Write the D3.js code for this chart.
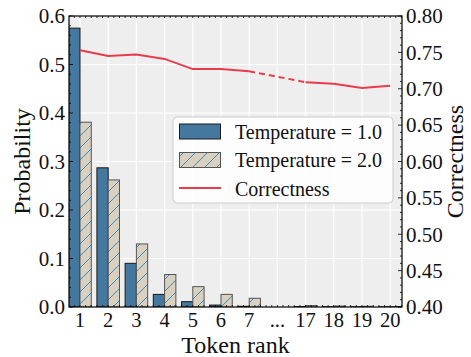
<!DOCTYPE html>
<html><head><meta charset="utf-8">
<script src="https://cdn.jsdelivr.net/npm/d3@7"></script>
<style>body{margin:0;background:#fff}svg{display:block}text{font-family:"Liberation Serif","Times New Roman",serif;fill:#111}</style>
</head><body>
<svg id="c" width="471" height="357"></svg>
<script>
const categories = ["1","2","3","4","5","6","7","...","17","18","19","20"];
const probTemp1 = [0.575,0.287,0.090,0.026,0.011,0.004,0.0015,null,0.0008,0.0005,0.0004,0.0003];
const probTemp2 = [0.381,0.262,0.130,0.067,0.042,0.026,0.018,null,0.003,0.002,0.0015,0.001];
const correctness = [0.753,0.745,0.747,0.741,0.727,0.727,0.724,null,0.709,0.707,0.701,0.704];
const leftTicks = [0.0,0.1,0.2,0.3,0.4,0.5,0.6];
const rightTicks = [0.40,0.45,0.50,0.55,0.60,0.65,0.70,0.75,0.80];
const legendLabels = ["Temperature = 1.0","Temperature = 2.0","Correctness"];

const L=69,R=402,T=16,B=307;
const svg=d3.select("#c");
const x=d3.scaleLinear().domain([-0.39,11.42]).range([L,R]);
const y=d3.scaleLinear().domain([0,0.6]).range([B,T]);
const y2=d3.scaleLinear().domain([0.4,0.8]).range([B,T]);
const bw=0.4;
const blue="#44789e", beige="#d9d0bf", red="#e83c4c";

const defs=svg.append("defs");
const pat=defs.append("pattern").attr("id","hatch").attr("patternUnits","userSpaceOnUse")
  .attr("width",12).attr("height",12);
pat.append("rect").attr("width",12).attr("height",12).attr("fill",beige);
pat.append("path").attr("d","M-3,3 L3,-3 M0,12 L12,0 M9,15 L15,9").attr("stroke","#3f8bc0").attr("stroke-width",1);
defs.append("clipPath").attr("id","clip").append("rect").attr("x",L).attr("y",T).attr("width",R-L).attr("height",B-T);

svg.append("rect").attr("x",L).attr("y",T).attr("width",R-L).attr("height",B-T).attr("fill","#eeeeee");
// grid
const g=svg.append("g");
g.selectAll(".gy").data(leftTicks).join("line").attr("x1",L).attr("x2",R)
  .attr("y1",d=>y(d)).attr("y2",d=>y(d)).attr("stroke","#fff").attr("stroke-width",1.2);
g.selectAll(".gx").data(categories).join("line").attr("y1",T).attr("y2",B)
  .attr("x1",(d,i)=>x(i)).attr("x2",(d,i)=>x(i)).attr("stroke","#fff").attr("stroke-width",1.2);

const bars=svg.append("g").attr("clip-path","url(#clip)");
const idx=categories.map((c,i)=>i);
bars.selectAll(".b1").data(idx.filter(i=>probTemp1[i]!=null)).join("rect")
  .attr("x",i=>x(i-bw)).attr("width",i=>x(i)-x(i-bw))
  .attr("y",i=>y(probTemp1[i])).attr("height",i=>y(0)-y(probTemp1[i]))
  .attr("fill",blue).attr("stroke","#1a1a1a").attr("stroke-width",1);
bars.selectAll(".b2").data(idx.filter(i=>probTemp2[i]!=null)).join("rect")
  .attr("x",i=>x(i)).attr("width",i=>x(i+bw)-x(i))
  .attr("y",i=>y(probTemp2[i])).attr("height",i=>y(0)-y(probTemp2[i]))
  .attr("fill","url(#hatch)").attr("stroke","#555").attr("stroke-width",1);

// correctness line
const pts=idx.filter(i=>correctness[i]!=null);
const line=d3.line().x(i=>x(i)).y(i=>y2(correctness[i]));
const seg1=pts.filter(i=>i<=6), seg2=pts.filter(i=>i>=8);
svg.append("path").attr("d",line(seg1)).attr("fill","none").attr("stroke",red).attr("stroke-width",2);
svg.append("path").attr("d",line(seg2)).attr("fill","none").attr("stroke",red).attr("stroke-width",2);
svg.append("path").attr("d",line([6,8])).attr("fill","none").attr("stroke",red).attr("stroke-width",2).attr("stroke-dasharray","6,4");

// spines
svg.append("rect").attr("x",L).attr("y",T).attr("width",R-L).attr("height",B-T).attr("fill","none").attr("stroke","#000").attr("stroke-width",1.2);

// ticks inward
const tk=svg.append("g").attr("stroke","#000").attr("stroke-width",0.8);
d3.range(0,0.6001,0.02).forEach(v=>{const len=(Math.abs(v*10-Math.round(v*10))<1e-6)?4:2;
  tk.append("line").attr("x1",L).attr("x2",L+len).attr("y1",y(v)).attr("y2",y(v));});
d3.range(0.4,0.8001,0.01).forEach(v=>{const len=(Math.abs(v*20-Math.round(v*20))<1e-6)?4:2;
  tk.append("line").attr("x1",R).attr("x2",R-len).attr("y1",y2(v)).attr("y2",y2(v));});
d3.range(-0.2,11.41,0.2).forEach(v=>{
  tk.append("line").attr("x1",x(v)).attr("x2",x(v)).attr("y1",T).attr("y2",T+2);
  tk.append("line").attr("x1",x(v)).attr("x2",x(v)).attr("y1",B).attr("y2",B-2);});

// tick labels
svg.append("g").selectAll("text").data(leftTicks).join("text")
  .attr("x",L-4).attr("y",d=>y(d)).attr("dy","0.35em").attr("text-anchor","end")
  .attr("font-size",21).text(d=>d.toFixed(1));
svg.append("g").selectAll("text").data(rightTicks).join("text")
  .attr("x",R+4).attr("y",d=>y2(d)).attr("dy","0.35em").attr("text-anchor","start")
  .attr("font-size",21).text(d=>d.toFixed(2));
svg.append("g").selectAll("text").data(categories).join("text")
  .attr("x",(d,i)=>x(i)).attr("y",B+20).attr("text-anchor","middle")
  .attr("font-size",20.5).text(d=>d);

// axis labels
svg.append("text").attr("x",(L+R)/2).attr("y",353).attr("text-anchor","middle").attr("font-size",24).text("Token rank");
svg.append("text").attr("transform",`translate(30,${(T+B)/2}) rotate(-90)`).attr("text-anchor","middle").attr("font-size",24).text("Probability");
svg.append("text").attr("transform",`translate(463,${(T+B)/2}) rotate(-90)`).attr("text-anchor","middle").attr("font-size",24).text("Correctness");

// legend
const lg=svg.append("g");
lg.append("rect").attr("x",173).attr("y",117).attr("width",220).attr("height",86).attr("rx",4)
  .attr("fill","#fff").attr("fill-opacity",0.85).attr("stroke","#cccccc");
lg.append("rect").attr("x",179.5).attr("y",124).attr("width",41).attr("height",15).attr("fill",blue).attr("stroke","#1a1a1a");
lg.append("rect").attr("x",179.5).attr("y",152.5).attr("width",41).attr("height",15).attr("fill","url(#hatch)").attr("stroke","#555");
lg.append("line").attr("x1",179).attr("x2",221).attr("y1",188).attr("y2",188).attr("stroke",red).attr("stroke-width",2);
lg.selectAll(".lt").data(legendLabels).join("text").attr("x",235).attr("y",(d,i)=>131.5+i*28.5)
  .attr("dy","0.35em").attr("font-size",20).text(d=>d);
</script>
</body></html>
